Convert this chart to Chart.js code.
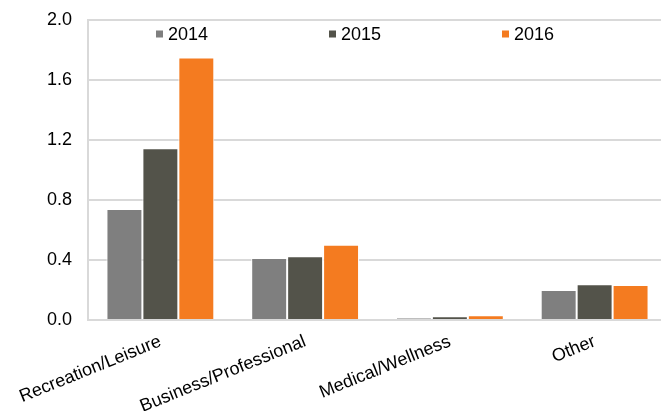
<!DOCTYPE html>
<html>
<head>
<meta charset="utf-8">
<script src="https://cdn.jsdelivr.net/npm/chart.js@4.4.1/dist/chart.umd.min.js"></script>
<style>
  html, body { margin: 0; padding: 0; overflow: hidden; background: #ffffff; }
  #wrap { width: 667px; height: 411px; }
</style>
</head>
<body>
<div id="wrap"><canvas id="c" width="667" height="411"></canvas></div>
<script>
const categories = ['Recreation/Leisure', 'Business/Professional', 'Medical/Wellness', 'Other'];
const seriesNames = ['2014', '2015', '2016'];
const values2014 = [0.74, 0.413, 0.013, 0.20];
const values2015 = [1.145, 0.425, 0.025, 0.238];
const values2016 = [1.75, 0.502, 0.031, 0.233];
const yTickLabels = ['0.0', '0.4', '0.8', '1.2', '1.6', '2.0'];

const seriesColors = ['#7f7f7f', '#53534a', '#f47b20'];
const FONT = "'Liberation Sans', Arial, sans-serif";
const FONT_SIZE = 18;

const legendPlugin = {
  id: 'insideLegend',
  afterDraw(chart) {
    const ctx = chart.ctx;
    const y = 34;
    const firstX = 156, step = 173, box = 7, gap = 5;
    ctx.save();
    ctx.font = FONT_SIZE + 'px ' + FONT;
    ctx.textBaseline = 'middle';
    ctx.textAlign = 'left';
    chart.data.datasets.forEach((ds, i) => {
      const x = firstX + i * step;
      ctx.fillStyle = ds.backgroundColor;
      ctx.fillRect(x, y - box / 2, box, box);
      ctx.fillStyle = '#000000';
      ctx.fillText(ds.label, x + box + gap, y + 1);
    });
    ctx.restore();
  }
};

const seriesValues = [values2014, values2015, values2016];

new Chart(document.getElementById('c'), {
  type: 'bar',
  data: {
    labels: categories,
    datasets: seriesNames.map((name, i) => ({
      label: name,
      data: seriesValues[i],
      backgroundColor: seriesColors[i],
      borderColor: '#ffffff',
      borderWidth: 1,
      borderSkipped: 'start',
      categoryPercentage: 0.745,
      barPercentage: 1.0
    }))
  },
  options: {
    responsive: false,
    animation: false,
    devicePixelRatio: 1,
    layout: { padding: { top: 20, left: 0, right: 0, bottom: 0 } },
    plugins: {
      legend: { display: false },
      tooltip: { enabled: false }
    },
    scales: {
      x: {
        grid: { display: false, drawTicks: false },
        border: { display: true, color: '#d9d9d9', width: 2 },
        ticks: {
          color: '#000000',
          font: { family: FONT, size: FONT_SIZE },
          minRotation: 22,
          maxRotation: 22,
          padding: 11,
          autoSkip: false
        },
        afterFit(scale) {
          scale.height = 91;
          scale.paddingLeft = 0;
          scale.paddingRight = 0;
        }
      },
      y: {
        min: 0,
        max: 2,
        grid: { color: '#d9d9d9', lineWidth: 2, drawTicks: false },
        border: { display: true, color: '#d9d9d9', width: 2 },
        ticks: {
          stepSize: 0.4,
          color: '#000000',
          font: { family: FONT, size: FONT_SIZE },
          padding: 16,
          callback: (v, i) => yTickLabels[i]
        },
        afterFit(scale) {
          scale.width = 88;
          scale.paddingTop = 0;
          scale.paddingBottom = 0;
        }
      }
    }
  },
  plugins: [legendPlugin]
});
</script>
</body>
</html>
